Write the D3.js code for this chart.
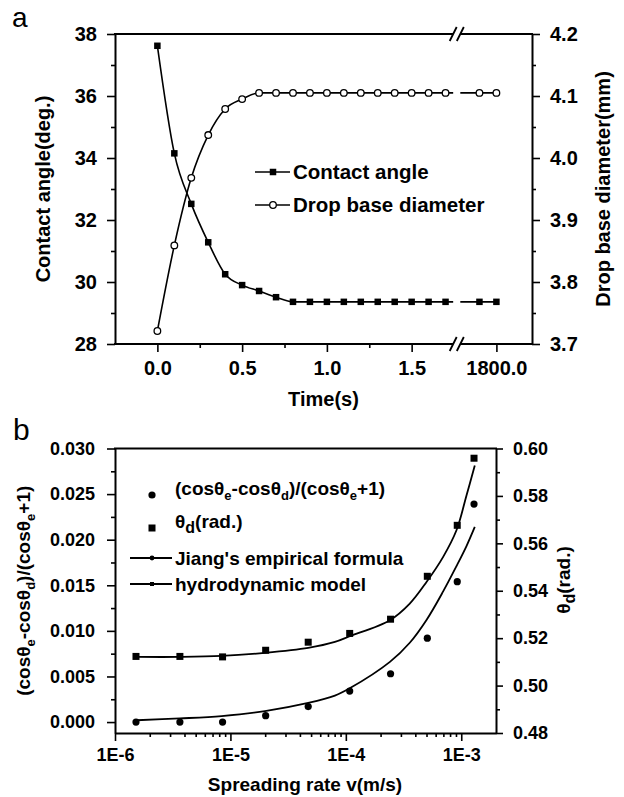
<!DOCTYPE html>
<html><head><meta charset="utf-8">
<script src="https://cdn.jsdelivr.net/npm/d3@7/dist/d3.min.js"></script>
<style>body{margin:0;background:#fff}</style>
</head><body>
<script>
// ---------------- Panel a data ----------------
// display positions on the broken time axis; 2.0 is the "1800.0" s point after the break
const timePos = [0,0.1,0.2,0.3,0.4,0.5,0.6,0.7,0.8,0.9,1.0,1.1,1.2,1.3,1.4,1.5,1.6,1.7,1.9,2.0];
const contactAngle = [37.62,34.15,32.52,31.28,30.25,29.90,29.71,29.51,29.36,29.36,29.36,29.36,29.36,29.36,29.36,29.36,29.36,29.36,29.36,29.36];
const dropDiameter = [3.721,3.859,3.968,4.037,4.079,4.095,4.105,4.105,4.105,4.105,4.105,4.105,4.105,4.105,4.105,4.105,4.105,4.105,4.105,4.105];
const timeTicks = [0,0.5,1.0,1.5,2.0];
const timeTickLabels = ["0.0","0.5","1.0","1.5","1800.0"];
const timeMinor = [0.25,0.75,1.25];
const timeBreak = [1.745,1.787];
const angleTicks = [28,30,32,34,36,38];
const angleMinor = [29,31,33,35,37];
const diamTicks = [3.7,3.8,3.9,4.0,4.1,4.2];
const diamMinor = [3.75,3.85,3.95,4.05,4.15];
const legendA = ["Contact angle","Drop base diameter"];

// ---------------- Panel b data ----------------
const rateV = [1.52e-6,3.65e-6,8.55e-6,2.02e-5,4.72e-5,1.08e-4,2.44e-4,5.08e-4,9.23e-4,1.29e-3];
const cosRatio = [0.0000,0.0000,0.0000,0.0007,0.0017,0.0034,0.0053,0.0092,0.0154,0.0239];
const thetaD = [0.5123,0.5123,0.5121,0.5149,0.5183,0.5220,0.5280,0.5461,0.5676,0.5959];
const fitV = [1.54e-6,3.66e-6,8.4e-6,1.99e-5,4.72e-5,8.04e-5,1.08e-4,2.41e-4,3.58e-4,5.0e-4,6.95e-4,9.09e-4,1.11e-3,1.31e-3];
const jiangFit = [0.0002,0.0004,0.00066,0.0012,0.0021,0.0029,0.0037,0.0066,0.0087,0.0112,0.0143,0.0171,0.0193,0.0214];
const hydroFit = [0.5121,0.5121,0.5125,0.5138,0.5159,0.5184,0.5208,0.5276,0.5346,0.5437,0.5542,0.5655,0.5802,0.5928];
const rateTicks = [1e-6,1e-5,1e-4,1e-3];
const rateTickLabels = ["1E-6","1E-5","1E-4","1E-3"];
const ratioTicks = [0,0.005,0.010,0.015,0.020,0.025,0.030];
const ratioMinor = [0.0025,0.0075,0.0125,0.0175,0.0225,0.0275];
const thetaTicks = [0.48,0.50,0.52,0.54,0.56,0.58,0.60];
const thetaMinor = [0.49,0.51,0.53,0.55,0.57,0.59];

const FONT = '"Liberation Sans", Arial, Helvetica, sans-serif';
const svg = d3.select("body").append("svg").attr("width",624).attr("height",797)
  .attr("font-family",FONT);

function styleAxis(g, fs){
  g.attr("font-family",FONT).attr("font-size",fs).attr("font-weight","bold");
  g.select(".domain").attr("stroke","#000").attr("stroke-width",2);
  g.selectAll(".tick line").attr("stroke","#000").attr("stroke-width",1.6);
  g.selectAll(".tick text").attr("fill","#000");
}
function minorAxis(g){
  g.select(".domain").remove();
  g.selectAll(".tick line").attr("stroke","#000").attr("stroke-width",1.6);
  g.selectAll(".tick text").remove();
}
function rich(sel, parts, fs, subFs, subDy){
  let cur = 0;
  parts.forEach(p => {
    const target = p.sub ? subDy : 0;
    sel.append("tspan").attr("dy", target - cur).attr("font-size", p.sub ? subFs : fs).text(p.t);
    cur = target;
  });
}

// ================= Panel a =================
const aL=115, aR=532, aT=34, aB=344;
const xa = d3.scaleLinear().domain([-0.25,2.21]).range([aL,aR]);
const yaL = d3.scaleLinear().domain([28,38]).range([aB,aT]);
const yaR = d3.scaleLinear().domain([3.7,4.2]).range([aB,aT]);

const ga = svg.append("g");
const lineCA = d3.line().x((d,i)=>xa(timePos[i])).y(d=>yaL(d)).curve(d3.curveMonotoneX);
const lineDD = d3.line().x((d,i)=>xa(timePos[i])).y(d=>yaR(d)).curve(d3.curveMonotoneX);
ga.append("path").attr("d",lineCA(contactAngle)).attr("fill","none").attr("stroke","#000").attr("stroke-width",1.6);
ga.append("path").attr("d",lineDD(dropDiameter)).attr("fill","none").attr("stroke","#000").attr("stroke-width",1.6);
// axis break mask
ga.append("rect").attr("x",xa(timeBreak[0])).attr("width",xa(timeBreak[1])-xa(timeBreak[0]))
  .attr("y",aT+2).attr("height",aB-aT-4).attr("fill","#fff");
const sqA = 6.5;
ga.selectAll("rect.ca").data(contactAngle).join("rect").attr("class","ca")
  .attr("x",(d,i)=>xa(timePos[i])-sqA/2).attr("y",d=>yaL(d)-sqA/2).attr("width",sqA).attr("height",sqA).attr("fill","#000");
ga.selectAll("circle.dd").data(dropDiameter).join("circle").attr("class","dd")
  .attr("cx",(d,i)=>xa(timePos[i])).attr("cy",d=>yaR(d)).attr("r",3.3).attr("fill","#fff").attr("stroke","#000").attr("stroke-width",1.3);

// axes a
const axL = ga.append("g").attr("transform",`translate(${aL},0)`)
  .call(d3.axisLeft(yaL).tickValues(angleTicks).tickSize(8).tickPadding(10).tickSizeOuter(0).tickFormat(d3.format("d")));
styleAxis(axL,20);
ga.append("g").attr("transform",`translate(${aL},0)`).call(d3.axisLeft(yaL).tickValues(angleMinor).tickSize(4)).call(minorAxis);
const axR = ga.append("g").attr("transform",`translate(${aR},0)`)
  .call(d3.axisRight(yaR).tickValues(diamTicks).tickSize(8).tickPadding(10).tickSizeOuter(0).tickFormat(d3.format(".1f")));
styleAxis(axR,20);
ga.append("g").attr("transform",`translate(${aR},0)`).call(d3.axisRight(yaR).tickValues(diamMinor).tickSize(4)).call(minorAxis);
const axB = ga.append("g").attr("transform",`translate(0,${aB})`)
  .call(d3.axisBottom(xa).tickValues(timeTicks).tickSize(8).tickPadding(9).tickFormat((d,i)=>timeTickLabels[i]));
styleAxis(axB,20);
axB.select(".domain").remove();
ga.append("g").attr("transform",`translate(0,${aB})`).call(d3.axisBottom(xa).tickValues(timeMinor).tickSize(4)).call(minorAxis);
// horizontal frame lines with break
[aT,aB].forEach(y=>{
  ga.append("line").attr("x1",aL-1).attr("x2",xa(timeBreak[0])).attr("y1",y).attr("y2",y).attr("stroke","#000").attr("stroke-width",2);
  ga.append("line").attr("x1",xa(timeBreak[1])).attr("x2",aR+1).attr("y1",y).attr("y2",y).attr("stroke","#000").attr("stroke-width",2);
  timeBreak.forEach(b=>{
    ga.append("line").attr("x1",xa(b)-3.5).attr("x2",xa(b)+3.5).attr("y1",y+7).attr("y2",y-7).attr("stroke","#000").attr("stroke-width",1.8);
  });
});
// titles a
ga.append("text").attr("transform",`translate(43,${(aT+aB)/2}) rotate(-90)`).attr("text-anchor","middle").attr("dy","0.35em")
  .attr("font-size",20).attr("font-weight","bold").text("Contact angle(deg.)");
ga.append("text").attr("transform",`translate(603,${(aT+aB)/2}) rotate(-90)`).attr("text-anchor","middle").attr("dy","0.35em")
  .attr("font-size",20).attr("font-weight","bold").text("Drop base diameter(mm)");
ga.append("text").attr("x",(aL+aR)/2).attr("y",406).attr("text-anchor","middle")
  .attr("font-size",20).attr("font-weight","bold").text("Time(s)");
ga.append("text").attr("x",12).attr("y",27).attr("font-size",28).text("a");
// legend a
legendA.forEach((lab,i)=>{
  const y = 172 + i*33;
  ga.append("line").attr("x1",255).attr("x2",290).attr("y1",y).attr("y2",y).attr("stroke","#000").attr("stroke-width",1.6);
  if(i===0) ga.append("rect").attr("x",273-sqA/2).attr("y",y-sqA/2).attr("width",sqA).attr("height",sqA).attr("fill","#000");
  else ga.append("circle").attr("cx",273).attr("cy",y).attr("r",3.3).attr("fill","#fff").attr("stroke","#000").attr("stroke-width",1.3);
  ga.append("text").attr("x",293).attr("y",y).attr("dy","0.36em").attr("font-size",20.5).attr("font-weight","bold").text(lab);
});

// ================= Panel b =================
const bL=115, bR=496, bT=448.5, bB=733;
const xb = d3.scaleLog().domain([1e-6,2e-3]).range([bL,bR]);
const ybL = d3.scaleLinear().domain([-0.0012,0.030]).range([bB,bT]);
const ybR = d3.scaleLinear().domain([0.48,0.60]).range([bB,bT]);
const gb = svg.append("g");

const lineJ = d3.line().x((d,i)=>xb(fitV[i])).y(d=>ybL(d)).curve(d3.curveCatmullRom.alpha(0.5));
const lineH = d3.line().x((d,i)=>xb(fitV[i])).y(d=>ybR(d)).curve(d3.curveCatmullRom.alpha(0.5));
gb.append("path").attr("d",lineJ(jiangFit)).attr("fill","none").attr("stroke","#000").attr("stroke-width",1.8);
gb.append("path").attr("d",lineH(hydroFit)).attr("fill","none").attr("stroke","#000").attr("stroke-width",1.8);
const sqB = 7;
gb.selectAll("circle.cr").data(cosRatio).join("circle").attr("class","cr")
  .attr("cx",(d,i)=>xb(rateV[i])).attr("cy",d=>ybL(d)).attr("r",3.6).attr("fill","#000");
gb.selectAll("rect.td").data(thetaD).join("rect").attr("class","td")
  .attr("x",(d,i)=>xb(rateV[i])-sqB/2).attr("y",d=>ybR(d)-sqB/2).attr("width",sqB).attr("height",sqB).attr("fill","#000");

// axes b
const bxL = gb.append("g").attr("transform",`translate(${bL},0)`)
  .call(d3.axisLeft(ybL).tickValues(ratioTicks).tickSize(8).tickPadding(12).tickSizeOuter(0).tickFormat(d3.format(".3f")));
styleAxis(bxL,18);
gb.append("g").attr("transform",`translate(${bL},0)`).call(d3.axisLeft(ybL).tickValues(ratioMinor).tickSize(4)).call(minorAxis);
const bxR = gb.append("g").attr("transform",`translate(${bR},0)`)
  .call(d3.axisRight(ybR).tickValues(thetaTicks).tickSize(7).tickPadding(10).tickSizeOuter(0).tickFormat(d3.format(".2f")));
styleAxis(bxR,18);
gb.append("g").attr("transform",`translate(${bR},0)`).call(d3.axisRight(ybR).tickValues(thetaMinor).tickSize(4)).call(minorAxis);
const bxB = gb.append("g").attr("transform",`translate(0,${bB})`)
  .call(d3.axisBottom(xb).tickValues(rateTicks).tickSize(8).tickPadding(7).tickSizeOuter(0).tickFormat((d,i)=>rateTickLabels[i]));
styleAxis(bxB,18);
const rateMinor = [];
[1e-6,1e-5,1e-4,1e-3].forEach(dec=>{ for(let k=2;k<=9;k++){ const v=k*dec; if(v<2e-3) rateMinor.push(v);} });
gb.append("g").attr("transform",`translate(0,${bB})`).call(d3.axisBottom(xb).tickValues(rateMinor).tickSize(4)).call(minorAxis);
gb.append("line").attr("x1",bL-1).attr("x2",bR+1).attr("y1",bT).attr("y2",bT).attr("stroke","#000").attr("stroke-width",2);

// titles b
const tl = gb.append("text").attr("transform",`translate(30,${(bT+bB)/2}) rotate(-90)`).attr("text-anchor","middle").attr("dy","0.35em")
  .attr("font-size",19).attr("font-weight","bold");
rich(tl,[{t:"(cosθ"},{t:"e",sub:true},{t:"-cosθ"},{t:"d",sub:true},{t:")/(cosθ"},{t:"e",sub:true},{t:"+1)"}],19,13,5);
const tr = gb.append("text").attr("transform",`translate(570,580) rotate(-90)`).attr("text-anchor","middle").attr("dy","0.35em")
  .attr("font-size",19).attr("font-weight","bold");
rich(tr,[{t:"θ"},{t:"d",sub:true},{t:"(rad.)"}],19,16,5);
gb.append("text").attr("x",305).attr("y",791).attr("text-anchor","middle")
  .attr("font-size",19).attr("font-weight","bold").text("Spreading rate v(m/s)");
gb.append("text").attr("x",13).attr("y",440).attr("font-size",30).text("b");

// legend b
const legYs = [495,528,558,584];
gb.append("circle").attr("cx",152).attr("cy",legYs[0]).attr("r",3.6).attr("fill","#000");
gb.append("rect").attr("x",152-sqB/2).attr("y",legYs[1]-sqB/2).attr("width",sqB).attr("height",sqB).attr("fill","#000");
[2,3].forEach(i=>{
  gb.append("line").attr("x1",130).attr("x2",172).attr("y1",legYs[i]).attr("y2",legYs[i]).attr("stroke","#000").attr("stroke-width",1.8);
});
gb.append("circle").attr("cx",152).attr("cy",legYs[2]).attr("r",2.4).attr("fill","#000");
gb.append("rect").attr("x",150).attr("y",legYs[3]-2).attr("width",4).attr("height",4).attr("fill","#000");
const l0 = gb.append("text").attr("x",175).attr("y",legYs[0]).attr("dy","0.36em").attr("font-size",19).attr("font-weight","bold");
rich(l0,[{t:"(cosθ"},{t:"e",sub:true},{t:"-cosθ"},{t:"d",sub:true},{t:")/(cosθ"},{t:"e",sub:true},{t:"+1)"}],19,13,5);
const l1 = gb.append("text").attr("x",175).attr("y",legYs[1]).attr("dy","0.36em").attr("font-size",19).attr("font-weight","bold");
rich(l1,[{t:"θ"},{t:"d",sub:true},{t:"(rad.)"}],19,16,5);
gb.append("text").attr("x",175).attr("y",legYs[2]).attr("dy","0.36em").attr("font-size",19).attr("font-weight","bold").text("Jiang's empirical formula");
gb.append("text").attr("x",175).attr("y",legYs[3]).attr("dy","0.36em").attr("font-size",19).attr("font-weight","bold").text("hydrodynamic model");
</script>
</body></html>
